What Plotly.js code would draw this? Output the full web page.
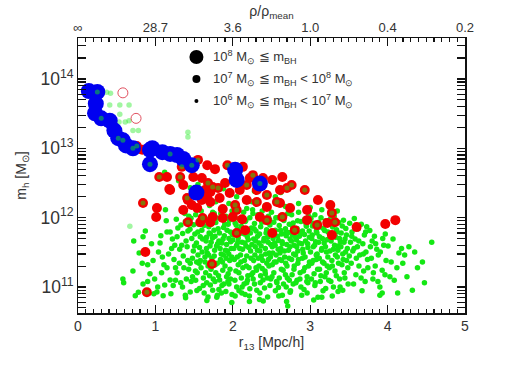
<!DOCTYPE html>
<html>
<head>
<meta charset="utf-8">
<script src="https://cdn.plot.ly/plotly-3.0.1.min.js"></script>
<style>
  html, body { margin: 0; padding: 0; background: #fff; }
  #chart { width: 518px; height: 370px; }
</style>
</head>
<body>
<div id="chart"></div>
<script>
// r13 [Mpc/h] and halo mass m_h [Msun]

// 10^8 Msun <= m_BH
var blueR = [0.14, 0.25, 0.23, 0.22, 0.30, 0.41, 0.47, 0.52, 0.58, 0.62, 0.71, 0.93, 0.96, 0.93,
  1.09, 1.19, 1.28, 1.36, 1.47, 1.53, 2.03, 2.05, 2.35];
var blueM = [6.7e13, 6.5e13, 4.4e13, 3.2e13, 2.7e13, 2.5e13, 1.8e13, 1.4e13, 1.3e13, 1.1e13, 1.0e13, 9.5e12, 1.0e13, 5.9e12,
  8.8e12, 8.3e12, 8.0e12, 7.0e12, 5.7e12, 2.3e12, 4.9e12, 3.5e12, 3.1e12];

// 10^7 <= m_BH < 10^8
var redR = [0.76, 0.83, 0.89, 1.05, 1.15, 1.32, 1.49, 1.60, 1.55, 1.67,
  1.77, 1.38, 1.34, 1.18, 1.36, 1.93, 2.13, 2.26, 2.39, 2.51,
  2.64, 1.68, 1.81, 1.90, 1.71, 1.60, 1.42, 1.47, 1.36, 1.54,
  1.67, 1.83, 1.96, 2.09, 2.18, 2.31, 2.44, 2.61, 2.76, 2.93,
  2.96, 2.74, 2.57, 2.44, 2.31, 2.18, 2.05, 1.87, 1.74, 1.61,
  1.58, 2.12, 2.16, 2.44, 2.64, 1.01, 0.84, 1.02, 1.19, 1.64,
  1.74, 2.22, 2.70, 1.41, 1.71, 2.03, 2.61, 3.26, 3.28, 1.71,
  1.87, 2.00, 2.35, 2.80, 2.96, 3.09, 3.22, 3.32, 3.28, 3.60,
  3.97, 4.10, 2.05, 1.73, 0.87, 0.89, 2.51, 1.42, 3.10];
var redM = [1.08e13, 9.5e12, 9.5e12, 3.86e12, 3.86e12, 3.86e12, 3.86e12, 3.73e12, 6.8e12, 5.7e12,
  5.0e12, 7.0e12, 5.4e12, 2.59e12, 2.95e12, 5.7e12, 5.4e12, 4.1e12, 3.73e12, 3.49e12,
  3.86e12, 3.16e12, 2.67e12, 3.16e12, 2.34e12, 1.8e12, 1.8e12, 1.52e12, 1.29e12, 1.38e12,
  1.92e12, 1.92e12, 2.26e12, 2.5e12, 2.95e12, 2.5e12, 2.12e12, 2.5e12, 2.95e12, 2.5e12,
  1.29e12, 1.38e12, 1.68e12, 1.42e12, 1.68e12, 1.8e12, 1.29e12, 1.33e12, 1.02e12, 9.9e11,
  8.6e11, 9.5e11, 6.6e11, 9.2e11, 1.02e12, 1.02e12, 1.63e12, 1.38e12, 2.5e12, 2.5e12,
  2.77e12, 3.73e12, 2.67e12, 1.92e12, 1.68e12, 1.52e12, 1.63e12, 1.52e12, 1.17e12, 8.6e11,
  9.9e11, 1.02e12, 1.02e12, 6.6e11, 9.2e11, 7.8e11, 8.4e11, 8.6e11, 5.6e11, 7.3e11,
  8.1e11, 9.2e11, 6.0e11, 2.14e11, 3.2e11, 8.4e10, 6.0e11, 8.6e11, 1.8e12];

// open red circles
var ringR = [0.58, 0.75];
var ringM = [6.3e13, 2.7e13];

// 10^6 <= m_BH < 10^7
var greenR = [0.58, 0.59, 0.72, 0.74, 0.78,
  0.84, 0.83, 0.90, 0.97, 0.84, 0.90, 0.95,
  1.03, 1.10, 1.09, 1.15, 1.19, 1.15, 1.19, 1.02, 1.12, 1.23, 1.06, 1.21, 1.13, 1.24, 1.08,
  1.28, 1.25, 1.34, 1.28, 1.41, 1.49, 1.45, 1.45, 1.27, 1.33, 1.38, 1.42, 1.47, 1.36, 1.31, 1.40, 1.48, 1.35, 1.43, 1.26, 1.46, 1.39,
  1.58, 1.67, 1.54, 1.62, 1.71, 1.52, 1.56, 1.60, 1.63, 1.66, 1.69, 1.72, 1.74, 1.51, 1.53, 1.57, 1.61, 1.64, 1.68, 1.73, 1.55, 1.59, 1.65, 1.70, 1.52, 1.57, 1.63, 1.68, 1.74, 1.60, 1.66, 1.71,
  1.80, 1.83, 1.87, 1.96, 1.93, 1.86, 1.76, 1.78, 1.81, 1.84, 1.88, 1.91, 1.94, 1.97, 1.99, 1.77, 1.79, 1.82, 1.85, 1.89, 1.92, 1.95, 1.98, 1.76, 1.80, 1.84, 1.88, 1.90, 1.94, 1.97, 1.78, 1.82, 1.86, 1.91, 1.95, 1.99, 1.77, 1.92,
  2.00, 2.09, 2.18, 2.13, 2.18, 2.05, 2.01, 2.03, 2.06, 2.08, 2.11, 2.14, 2.16, 2.19, 2.22, 2.24, 2.02, 2.05, 2.07, 2.10, 2.12, 2.15, 2.17, 2.20, 2.23, 2.02, 2.04, 2.07, 2.11, 2.15, 2.21, 2.24, 2.03, 2.08, 2.12, 2.16, 2.22, 2.19,
  2.26, 2.31, 2.39, 2.44, 2.35, 2.26, 2.28, 2.30, 2.33, 2.36, 2.38, 2.41, 2.43, 2.46, 2.48, 2.27, 2.29, 2.32, 2.34, 2.37, 2.40, 2.42, 2.45, 2.47, 2.49, 2.27, 2.30, 2.33, 2.36, 2.38, 2.42, 2.46, 2.49, 2.28, 2.35, 2.41, 2.45, 2.48,
  2.51, 2.61, 2.65, 2.57, 2.71, 2.64, 2.50, 2.53, 2.55, 2.58, 2.60, 2.63, 2.66, 2.68, 2.71, 2.73, 2.52, 2.54, 2.56, 2.59, 2.62, 2.64, 2.67, 2.69, 2.72, 2.74, 2.51, 2.53, 2.56, 2.60, 2.63, 2.68, 2.70, 2.73, 2.55, 2.59, 2.69, 2.74,
  2.89, 2.96, 2.76, 2.78, 2.83, 2.85, 2.88, 2.90, 2.93, 2.95, 2.98, 2.77, 2.79, 2.82, 2.84, 2.86, 2.89, 2.91, 2.94, 2.97, 2.99, 2.76, 2.79, 2.81, 2.84, 2.87, 2.90, 2.93, 2.96, 2.99, 2.78, 2.83, 2.88, 2.92, 2.97,
  3.10, 3.15, 3.01, 3.03, 3.06, 3.08, 3.11, 3.14, 3.17, 3.20, 3.23, 3.02, 3.04, 3.07, 3.09, 3.12, 3.15, 3.18, 3.21, 3.24, 3.02, 3.05, 3.08, 3.12, 3.16, 3.19, 3.22, 3.06, 3.13, 3.20, 3.24,
  3.42, 3.26, 3.29, 3.31, 3.34, 3.37, 3.40, 3.43, 3.46, 3.27, 3.30, 3.33, 3.36, 3.39, 3.42, 3.45, 3.48, 3.28, 3.32, 3.35, 3.38, 3.41, 3.44, 3.47, 3.30, 3.36, 3.49,
  3.67, 3.51, 3.54, 3.57, 3.62, 3.66, 3.70, 3.73, 3.52, 3.55, 3.58, 3.61, 3.64, 3.68, 3.72, 3.53, 3.59, 3.63, 3.69, 3.74, 3.56, 3.71,
  3.90, 3.93, 3.93, 3.90, 3.77, 3.80, 3.83, 3.86, 3.79, 3.84, 3.88, 3.95, 3.98, 3.81, 3.97,
  4.03, 4.07, 4.22, 4.12, 4.32, 4.13, 4.57, 4.18, 4.35, 4.45, 4.25,
  1.45, 1.62, 1.78, 1.95, 2.05, 2.25, 2.42, 2.55, 2.68, 2.85, 3.00, 3.15, 1.88, 2.28, 2.62, 1.55, 3.35, 2.18, 1.70, 1.30, 1.12,
  0.71, 0.79, 0.87, 0.93, 0.98, 1.04, 1.07, 1.11, 1.14, 1.17, 1.20, 1.22, 1.26, 1.29, 0.99,
  1.314, 1.327, 1.352, 1.368, 1.387, 1.396, 1.418, 1.433, 1.447, 1.462, 1.478, 1.494, 1.506, 1.517, 1.536,
  1.548, 1.563, 1.579, 1.592, 1.604, 1.618, 1.627, 1.642, 1.655, 1.663, 1.676, 1.688, 1.694, 1.533, 1.387,
  1.706, 1.718, 1.726, 1.738, 1.747, 1.757, 1.765, 1.773, 1.786, 1.793, 1.804, 1.816, 1.827, 1.836, 1.845,
  1.853, 1.866, 1.874, 1.883, 1.896, 1.905, 1.914, 1.926, 1.937, 1.948, 1.956, 1.964, 1.973, 1.986, 1.994,
  2.013, 2.027, 2.044, 2.058, 2.066, 2.079, 2.092,
  2.104, 2.117, 2.126, 2.138, 2.146, 2.157, 2.168, 2.176, 2.187, 2.194, 2.206, 2.214, 2.228, 2.236, 2.247,
  2.256, 2.264, 2.276, 2.285, 2.296, 2.305, 2.318, 2.325, 2.337, 2.346, 2.355, 2.366, 2.374, 2.386, 2.393,
  2.404, 2.416, 2.425, 2.437, 2.444, 2.456, 2.467, 2.475, 2.486, 2.494,
  2.506, 2.517, 2.528, 2.536, 2.547, 2.556, 2.565, 2.578, 2.586, 2.594, 2.607, 2.616, 2.627, 2.638, 2.646,
  2.655, 2.667, 2.676, 2.684, 2.697, 2.705, 2.716, 2.727, 2.738, 2.746, 2.757, 2.766, 2.775, 2.786, 2.794,
  2.806, 2.815, 2.826, 2.837, 2.848, 2.856, 2.867, 2.878,
  2.904, 2.913, 2.926, 2.934, 2.947, 2.956, 2.967, 2.978, 2.986, 3.004, 3.016, 3.027, 3.038, 3.046, 3.057,
  3.066, 3.078, 3.087, 3.096, 3.108, 3.117, 3.126, 3.138, 3.146, 3.157, 3.166, 3.178, 3.186, 3.197, 3.208,
  3.217, 3.228, 3.236, 3.247,
  3.256, 3.267, 3.278, 3.286, 3.297, 3.315, 3.326, 3.338, 3.347, 3.358, 3.366, 3.378, 3.386, 3.397, 3.414,
  3.426, 3.437, 3.448, 3.457, 3.468, 3.486, 3.505, 3.537, 3.566, 3.596, 3.628, 3.657, 3.687, 3.716, 3.745, 3.778,
  3.816, 3.846, 3.875, 3.906, 3.937, 3.966, 4.006, 4.046, 4.086, 4.146, 4.196, 4.275, 4.386, 4.476,
  1.665, 1.987, 2.345, 2.695, 3.045, 3.285, 2.215];
var greenM = [1.3e11, 1.15e11, 4.6e11, 7.5e10, 8.4e10,
  5.3e11, 2.2e11, 2.1e11, 2.4e11, 1.1e11, 1.2e11, 4.2e11,
  1.0e11, 7.5e10, 2.7e11, 6.2e11, 6.2e11, 1.9e11, 1.26e11, 8.5e10, 1.07e11, 1.05e11, 4.3e11, 3.6e11, 1.3e12, 2.5e11, 1.6e11,
  5.3e11, 4.0e11, 4.0e11, 1.6e11, 3.8e11, 3.3e11, 2.2e11, 8.5e10, 9.5e11, 7.8e11, 1.15e12, 6.4e11, 5.0e11, 2.8e11, 2.2e11, 1.3e11, 1.4e11, 1.0e11, 1.8e11, 1.25e11, 9.8e11, 7.0e10,
  2.4e11, 3.1e11, 1.6e11, 1.35e11, 1.07e11, 1.1e12, 8.0e11, 6.6e11, 9.0e11, 5.2e11, 7.4e11, 4.4e11, 1.2e12, 5.8e11, 4.3e11, 3.7e11, 4.9e11, 2.7e11, 2.0e11, 2.6e11, 2.9e11, 1.9e11, 1.6e11, 1.45e11, 1.25e11, 9.5e10, 8.2e10, 7.2e10, 9.0e10, 1.05e12, 3.6e11, 5.8e11,
  7.6e10, 1.26e11, 1.75e11, 2.4e11, 3.3e11, 4.3e11, 1.15e12, 8.5e11, 6.9e11, 9.6e11, 7.2e11, 1.05e12, 8.0e11, 6.2e11, 1.25e12, 5.4e11, 3.9e11, 4.6e11, 3.0e11, 5.5e11, 4.1e11, 5.0e11, 3.6e11, 2.8e11, 2.2e11, 2.5e11, 2.9e11, 2.0e11, 1.55e11, 1.3e11, 1.6e11, 9.2e10, 1.05e11, 8.6e10, 1.1e11, 7.8e10, 1.2e11, 1.4e11,
  4.75e11, 3.6e11, 2.8e11, 1.9e11, 1.15e11, 1.0e11, 1.1e12, 8.4e11, 6.8e11, 9.6e11, 7.5e11, 1.2e12, 8.8e11, 6.3e11, 1.0e12, 7.1e11, 5.6e11, 4.0e11, 5.1e11, 2.9e11, 4.4e11, 5.8e11, 3.9e11, 4.8e11, 3.3e11, 2.5e11, 1.7e11, 2.1e11, 1.35e11, 2.4e11, 1.9e11, 1.5e11, 7.4e10, 8.8e10, 1.0e11, 7.8e10, 9.4e10, 1.25e11,
  1.6e11, 9.0e10, 1.26e11, 2.2e11, 3.3e11, 1.15e12, 8.2e11, 6.4e11, 9.8e11, 7.4e11, 1.25e12, 8.7e11, 6.0e11, 1.05e12, 7.8e11, 4.9e11, 3.8e11, 5.4e11, 4.3e11, 2.8e11, 4.6e11, 3.6e11, 5.2e11, 3.1e11, 4.1e11, 2.4e11, 1.9e11, 2.6e11, 1.45e11, 1.85e11, 1.55e11, 2.5e11, 1.3e11, 1.1e11, 8.2e10, 9.7e10, 7.2e10, 1.05e11,
  3.8e11, 3.1e11, 1.75e11, 1.15e11, 5.3e10, 7.6e10, 1.2e12, 8.6e11, 6.6e11, 1.0e12, 7.7e11, 5.8e11, 9.1e11, 6.9e11, 1.15e12, 8.0e11, 5.0e11, 4.3e11, 2.9e11, 4.7e11, 3.6e11, 4.2e11, 2.7e11, 5.5e11, 3.4e11, 4.9e11, 2.1e11, 1.6e11, 2.3e11, 1.35e11, 2.4e11, 1.5e11, 2.0e11, 1.25e11, 8.8e10, 9.8e10, 1.0e11, 8.4e10,
  7.6e10, 8.2e10, 1.1e12, 8.4e11, 7.0e11, 1.2e12, 8.8e11, 6.4e11, 9.5e11, 7.5e11, 1.05e12, 5.6e11, 4.0e11, 4.8e11, 3.3e11, 5.4e11, 4.2e11, 3.1e11, 4.6e11, 3.7e11, 5.2e11, 2.5e11, 1.8e11, 2.9e11, 2.2e11, 1.6e11, 2.6e11, 1.9e11, 1.4e11, 2.3e11, 1.1e11, 1.25e11, 1.0e11, 9.2e10, 1.15e11,
  7.1e10, 7.1e10, 9.8e11, 7.6e11, 1.1e12, 6.4e11, 8.6e11, 1.0e12, 7.0e11, 9.0e11, 6.2e11, 5.0e11, 3.8e11, 4.5e11, 3.0e11, 5.3e11, 3.6e11, 4.3e11, 3.2e11, 4.9e11, 2.2e11, 1.55e11, 2.5e11, 1.8e11, 2.3e11, 1.4e11, 2.0e11, 1.05e11, 1.2e11, 9.5e10, 1.25e11,
  9.0e10, 9.5e11, 7.3e11, 1.05e12, 6.7e11, 8.5e11, 6.0e11, 9.2e11, 7.0e11, 4.6e11, 3.5e11, 5.2e11, 3.9e11, 4.5e11, 3.0e11, 4.9e11, 3.6e11, 2.4e11, 1.7e11, 2.7e11, 1.3e11, 2.1e11, 1.6e11, 2.4e11, 1.0e11, 8.6e10, 1.1e11,
  8.8e10, 8.3e11, 6.2e11, 9.7e11, 6.9e11, 8.0e11, 5.6e11, 7.4e11, 4.4e11, 3.3e11, 4.9e11, 3.8e11, 2.9e11, 4.2e11, 3.2e11, 2.2e11, 1.5e11, 2.0e11, 1.7e11, 2.5e11, 1.1e11, 1.2e11,
  7.6e10, 8.2e10, 1.75e11, 1.0e11, 6.5e11, 4.6e11, 5.4e11, 3.5e11, 2.6e11, 2.0e11, 2.9e11, 4.0e11, 2.4e11, 1.3e11, 5.8e11,
  1.4e11, 4.9e11, 2.9e11, 1.9e11, 9.0e10, 8.2e10, 4.4e11, 3.6e11, 3.2e11, 2.3e11, 1.4e11,
  2.7e12, 2.2e12, 1.7e12, 1.6e12, 2.0e12, 1.7e12, 1.5e12, 2.0e12, 1.45e12, 1.6e12, 1.4e12, 1.3e12, 2.6e12, 2.4e12, 2.3e12, 3.0e12, 1.25e12, 1.35e12, 1.5e12, 3.4e12, 4.5e12,
  1.7e11, 3.1e11, 6.4e11, 1.55e11, 8.0e10, 3.2e11, 5.5e11, 2.1e11, 9.0e11, 3.0e11, 8.0e10, 4.9e11, 1.9e11, 7.1e11, 1.3e11,
  3.5e11, 1.15e11, 5.9e11, 1.9e11, 8.8e11, 4.6e11, 2.4e11, 1.05e12, 6.8e11, 1.2e11, 2.6e11, 7.9e11, 3.9e11, 1.7e11, 8.9e10,
  6.2e11, 2.2e11, 5.3e11, 1.25e12, 3.2e11, 1.05e11, 7.7e11, 2.3e11, 4.6e11, 1.15e11, 9.4e11, 2.9e11, 6.0e11, 2.3e11, 7.6e10,
  3.9e11, 1.8e11, 8.1e11, 5.1e11, 1.3e11, 6.6e11, 3.4e11, 2.1e11, 9.9e11, 7.1e10, 4.2e11, 1.45e11, 6.0e11, 3.6e11, 1.15e12,
  8.2e10, 2.3e11, 4.9e11, 1.1e11, 8.0e11, 3.4e11, 2.6e11, 6.6e11, 1.2e11, 3.0e11, 9.2e11, 1.8e11, 4.5e11, 2.7e11, 5.7e11,
  3.6e11, 1.25e11, 7.8e11, 2.7e11, 4.4e11, 1.6e11, 5.9e11,
  2.3e11, 8.2e10, 3.5e11, 6.7e11, 1.1e11, 4.3e11, 9.1e11, 2.0e11, 5.3e11, 1.45e11, 3.7e11, 7.4e10, 6.0e11, 2.6e11, 4.1e11,
  1.3e12, 1.3e11, 6.9e11, 2.9e11, 4.6e11, 1.75e11, 3.4e11, 1.1e12, 2.0e11, 5.8e11, 1.15e11, 3.9e11, 8.6e11, 2.4e11, 6.3e10,
  5.0e11, 1.7e11, 3.0e11, 6.7e11, 1.35e11, 4.4e11, 2.0e11, 9.4e11, 2.7e11, 5.8e11,
  1.4e11, 3.1e11, 6.2e11, 2.3e11, 4.0e11, 1.0e12, 1.2e11, 5.4e11, 3.5e11, 7.4e10, 2.5e11, 6.6e11, 1.8e11, 4.5e11, 9.6e11,
  1.1e11, 3.3e11, 5.9e11, 2.2e11, 4.1e11, 1.35e11, 6.1e11, 2.6e11, 3.8e11, 8.8e10, 4.6e11, 1.5e11, 7.3e11, 3.0e11, 2.0e11,
  5.3e11, 1.15e11, 3.8e11, 9.0e11, 2.5e11, 4.3e11, 1.3e11, 6.0e11,
  3.5e11, 1.7e11, 5.7e11, 2.7e11, 8.1e11, 1.2e11, 4.2e11, 2.0e11, 6.4e11, 3.2e11, 1.3e11, 5.6e11, 2.4e11, 8.3e11, 4.0e11,
  1.15e11, 2.9e11, 6.0e11, 1.8e11, 4.4e11, 2.6e11, 7.3e11, 1.45e11, 3.4e11, 5.0e11, 8.8e10, 2.2e11, 6.5e11, 3.8e11, 1.6e11,
  4.8e11, 2.7e11, 8.0e11, 1.9e11,
  3.3e11, 1.2e11, 5.8e11, 2.0e11, 8.4e11, 4.0e11, 2.9e11, 1.45e11, 6.2e11, 3.4e11, 2.2e11, 5.0e11, 1.0e11, 3.8e11, 7.6e11,
  2.5e11, 4.4e11, 1.35e11, 3.2e11, 5.6e11, 1.9e11, 2.8e11, 5.4e11, 3.6e11, 2.6e11, 4.6e11, 1.35e11, 3.0e11, 6.2e11, 1.9e11, 3.8e11,
  1.6e11, 4.2e11, 1.2e11, 3.2e11, 5.0e11, 1.5e11, 3.9e11, 2.3e11, 1.25e11, 3.1e11, 2.2e11, 3.8e11, 1.9e11, 1.15e11,
  6.4e10, 6.0e10, 6.6e10, 6.2e10, 6.5e10, 7.4e10, 6.2e10];

// pale green points, upper left
var paleR = [0.37, 0.42, 0.28, 0.41, 0.54, 0.66, 0.54, 0.45, 0.53, 0.61, 0.66, 0.78, 0.52, 0.58, 1.42, 0.93, 0.71, 0.67, 1.42];
var paleM = [6.4e13, 6.2e13, 4.2e13, 4.2e13, 4.2e13, 4.2e13, 3.1e13, 2.6e13, 2.4e13, 2.4e13, 2.5e13, 1.8e13, 1.55e13, 1.4e13, 1.45e13, 1.0e13, 1.8e13, 7.5e11, 1.7e13];

// green points drawn over the red / blue ones
var topR = [0.76, 1.05, 1.32, 1.55, 1.34, 1.93, 2.26, 1.68, 1.81, 2.18, 2.44, 2.76, 2.57, 2.31, 2.05, 1.61,
  2.44, 2.64, 0.84, 1.41, 2.03, 3.28, 2.80, 3.09, 3.32, 2.05, 1.73, 0.89, 1.42, 2.70, 1.74, 2.93,
  0.25, 0.30, 0.52, 0.58, 0.71, 1.19, 1.47, 2.35, 0.93];
var topM = [1.08e13, 3.86e12, 3.86e12, 6.8e12, 5.4e12, 5.7e12, 4.1e12, 3.16e12, 2.67e12, 2.95e12, 2.12e12, 2.95e12, 1.68e12, 1.68e12, 1.29e12, 9.9e11,
  9.2e11, 1.02e12, 1.63e12, 1.92e12, 1.52e12, 1.17e12, 6.6e11, 7.8e11, 8.6e11, 6.0e11, 2.14e11, 8.4e10, 8.6e11, 2.67e12, 2.77e12, 2.5e12,
  6.5e13, 2.7e13, 1.4e13, 1.3e13, 1.0e13, 8.3e12, 5.7e12, 3.1e12, 5.9e12];

// tick labels
var xTicks = [0, 1, 2, 3, 4, 5];
var rhoLabels = ['\u221e', '28.7', '3.6', '1.0', '0.4', '0.2'];

var legendText = [
  '10<sup>8</sup> M<sub>\u2299</sub> \u2266 m<sub>BH</sub>',
  '10<sup>7</sup> M<sub>\u2299</sub> \u2266 m<sub>BH</sub> &lt; 10<sup>8</sup> M<sub>\u2299</sub>',
  '10<sup>6</sup> M<sub>\u2299</sub> \u2266 m<sub>BH</sub> &lt; 10<sup>7</sup> M<sub>\u2299</sub>'
];
var legendSize = [14, 8, 4];

var GREEN = 'rgb(20,232,20)';
var RED = 'rgb(242,0,0)';
var BLUE = 'rgb(0,0,240)';
var TXT = '#333';
var FONT = 'Liberation Sans, Arial, sans-serif';

var data = [
  { x: greenR, y: greenM, type: 'scatter', mode: 'markers', hoverinfo: 'none',
    marker: { color: GREEN, size: 5.5, line: { width: 0 } } },
  { x: paleR, y: paleM, type: 'scatter', mode: 'markers', hoverinfo: 'none',
    marker: { color: GREEN, size: 5.5, opacity: 0.4, line: { width: 0 } } },
  { x: redR, y: redM, type: 'scatter', mode: 'markers', hoverinfo: 'none',
    marker: { color: RED, size: 10, line: { width: 0 } } },
  { x: ringR, y: ringM, type: 'scatter', mode: 'markers', hoverinfo: 'none',
    marker: { symbol: 'circle-open', color: 'rgb(225,80,95)', size: 10, line: { width: 1 } } },
  { x: blueR, y: blueM, type: 'scatter', mode: 'markers', hoverinfo: 'none',
    marker: { color: BLUE, size: 16, line: { width: 0 } } },
  { x: topR, y: topM, type: 'scatter', mode: 'markers', hoverinfo: 'none',
    marker: { color: GREEN, size: 5, opacity: 0.5, line: { width: 0 } } },
  // holds the top (density) axis
  { x: [], y: [], xaxis: 'x2', type: 'scatter', mode: 'markers', hoverinfo: 'none' }
];

var shapes = [], annotations = [];
var rowY = [0.931, 0.851, 0.771];
for (var i = 0; i < legendText.length; i++) {
  var r = legendSize[i] / 2;
  shapes.push({ type: 'circle', xref: 'paper', yref: 'paper', xsizemode: 'pixel', ysizemode: 'pixel',
    xanchor: 0.306, yanchor: rowY[i], x0: -r, x1: r, y0: -r, y1: r,
    fillcolor: 'black', line: { width: 0 } });
  annotations.push({ xref: 'paper', yref: 'paper', x: 0.343, y: rowY[i], xanchor: 'left', yanchor: 'middle',
    text: legendText[i], showarrow: false, font: { family: FONT, size: 13, color: TXT } });
}

var layout = {
  width: 518, height: 370,
  margin: { l: 78, r: 53, t: 38, b: 57 },
  paper_bgcolor: 'white', plot_bgcolor: 'white',
  showlegend: false,
  font: { family: FONT, size: 14, color: TXT },
  xaxis: {
    range: [0, 5], tickvals: xTicks, ticks: 'inside', ticklen: 8, tickwidth: 1.2, tickcolor: '#111',
    minor: { dtick: 0.1, ticks: 'inside', ticklen: 4, tickcolor: '#111' },
    showline: true, linecolor: '#111', linewidth: 1.5, mirror: 'allticks',
    showgrid: false, zeroline: false, tickfont: { size: 14 },
    title: { text: 'r<sub>13</sub> [Mpc/h]', standoff: 4, font: { size: 14 } }
  },
  xaxis2: {
    overlaying: 'x', side: 'top', range: [0, 5], tickvals: xTicks, ticktext: rhoLabels,
    ticks: '', showline: false, showgrid: false, zeroline: false, tickfont: { size: 13 },
    ticklabelstandoff: 2,
    title: { text: '\u03c1/\u03c1<sub>mean</sub>', standoff: 0, font: { size: 14 } }
  },
  yaxis: {
    type: 'log', range: [10.625, 14.59], dtick: 1, exponentformat: 'power', showexponent: 'all',
    ticks: 'inside', ticklen: 8, tickwidth: 1.2, tickcolor: '#111',
    minor: { dtick: 'D1', ticks: 'inside', ticklen: 4, tickcolor: '#111' },
    showline: true, linecolor: '#111', linewidth: 1.5, mirror: 'allticks',
    showgrid: false, zeroline: false, tickfont: { size: 14 },
    title: { text: 'm<sub>h</sub> [M<sub>\u2299</sub>]', standoff: 10, font: { size: 14 } }
  },
  shapes: shapes,
  annotations: annotations
};

Plotly.newPlot('chart', data, layout, { staticPlot: true });
</script>
</body>
</html>
